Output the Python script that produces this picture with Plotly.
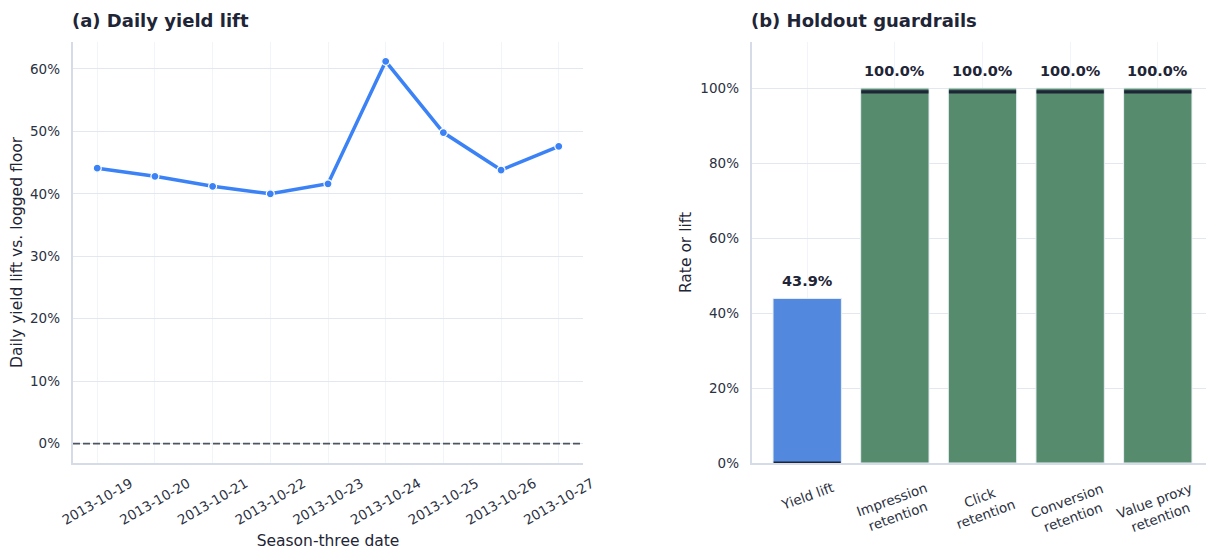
import plotly.graph_objects as go

# (a) daily yield lift
dates = ["2013-10-19", "2013-10-20", "2013-10-21", "2013-10-22", "2013-10-23",
         "2013-10-24", "2013-10-25", "2013-10-26", "2013-10-27"]
daily_lift = [0.441, 0.428, 0.412, 0.400, 0.416, 0.612, 0.498, 0.438, 0.476]

# (b) holdout guardrails
metrics = ["Yield lift", "Impression<br>retention", "Click<br>retention",
           "Conversion<br>retention", "Value proxy<br>retention"]
metric_values = [0.439, 1.0, 1.0, 1.0, 1.0]
guardrail_floor = [0.0, 0.99, 0.99, 0.99, 0.99]
bar_colors = ["#5288dd", "#568c6d", "#568c6d", "#568c6d", "#568c6d"]

INK = "#1e2536"
TICK = "#2b3142"
GRID = "#e3e8f0"
SPINE = "#d5dce7"
FONT = "DejaVu Sans, sans-serif"

# page body has an 8px margin, so the figure is drawn 8px smaller
W, H = 1206, 544

fig = go.Figure()

fig.add_trace(go.Scatter(
    x=dates, y=daily_lift, mode="lines+markers",
    line={"color": "#3b82f6", "width": 3.5},
    marker={"size": 8, "color": "#3b82f6", "line": {"color": "white", "width": 1.2}},
    xaxis="x", yaxis="y", showlegend=False,
))
fig.add_shape(type="line", xref="x domain", yref="y", x0=0, x1=1, y0=0, y1=0,
              line={"color": "#4b5563", "width": 1.6, "dash": "7px,3px"})

fig.add_trace(go.Bar(
    x=metrics, y=metric_values, width=0.78,
    marker={"color": bar_colors, "line": {"color": "#e8eef5", "width": 1}},
    xaxis="x2", yaxis="y2", showlegend=False,
))
fig.add_trace(go.Scatter(
    x=metrics, y=guardrail_floor, mode="markers",
    marker={"symbol": "line-ew", "size": 48, "line": {"color": INK, "width": 3.2}},
    xaxis="x2", yaxis="y2", showlegend=False,
))

annotations = [
    dict(text="<b>(a) Daily yield lift</b>", xref="paper", yref="paper", x=62 / W, y=1,
         xanchor="left", yanchor="top", showarrow=False,
         font={"size": 18, "family": FONT, "color": INK}),
    dict(text="<b>(b) Holdout guardrails</b>", xref="paper", yref="paper", x=741 / W, y=1,
         xanchor="left", yanchor="top", showarrow=False,
         font={"size": 18, "family": FONT, "color": INK}),
]
for m, v in zip(metrics, metric_values):
    annotations.append(dict(text=f"<b>{v:.1%}</b>", x=m, y=v, xref="x2", yref="y2",
                            yshift=17, yanchor="middle", showarrow=False,
                            font={"size": 14.5, "family": FONT, "color": INK}))
    annotations.append(dict(text=m, x=m, y=0, xref="x2", yref="y2 domain",
                            yshift=-14, yanchor="top", xanchor="center", align="center",
                            textangle=-20, showarrow=False,
                            font={"size": 13.5, "family": FONT, "color": TICK}))

axis_common = dict(
    showline=True, linecolor=SPINE, linewidth=1.5, mirror=False,
    tickfont={"size": 13.5, "family": FONT, "color": TICK},
    zeroline=False, automargin=False,
)

fig.update_layout(
    width=W, height=H,
    margin=dict(l=0, r=0, t=0, b=0),
    paper_bgcolor="white", plot_bgcolor="white",
    font={"family": FONT, "color": INK},
    xaxis=dict(domain=[65 / W, 575 / W], anchor="y", type="category", range=[-0.42, 8.42],
               tickangle=-30, ticks="outside", ticklen=6, tickcolor="rgba(0,0,0,0)",
               ticklabelshift=33,
               showgrid=True, gridcolor="#f1f4f8", gridwidth=1,
               title={"text": "Season-three date", "font": {"size": 15.5, "color": INK}, "standoff": 8},
               **axis_common),
    yaxis=dict(domain=[1 - 455 / H, 1 - 34 / H], anchor="x", range=[-0.031, 0.643], tickformat=".0%",
               dtick=0.1, showgrid=True, gridcolor=GRID, gridwidth=1.2, ticksuffix="  ", ticks="",
               title={"text": "Daily yield lift vs. logged floor", "font": {"size": 15.5, "color": INK},
                      "standoff": 4},
               **axis_common),
    xaxis2=dict(domain=[744 / W, 1205 / W], anchor="y2", type="category", range=[-0.63, 4.63],
                showticklabels=False, ticks="",
                showgrid=True, gridcolor="#f1f4f8", gridwidth=1,
                **axis_common),
    yaxis2=dict(domain=[1 - 455 / H, 1 - 34 / H], anchor="x2", range=[0, 1.123], tickformat=".0%",
                dtick=0.2, showgrid=True, gridcolor=GRID, gridwidth=1.2, ticksuffix="  ", ticks="",
                title={"text": "Rate or lift", "font": {"size": 15.5, "color": INK}, "standoff": 5},
                **axis_common),
    annotations=annotations,
)

fig.write_html("out.html")
